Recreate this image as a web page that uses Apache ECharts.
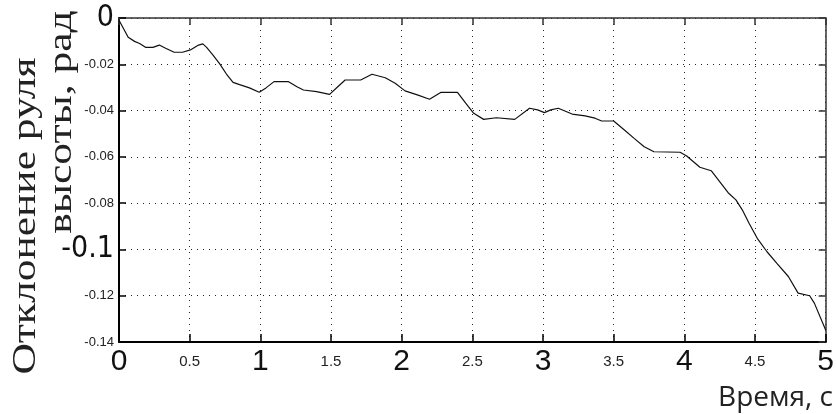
<!DOCTYPE html>
<html>
<head>
<meta charset="utf-8">
<script src="https://cdn.jsdelivr.net/npm/echarts@6/dist/echarts.min.js"></script>
<style>
html,body{margin:0;padding:0;background:#fff;}
#chart{width:837px;height:414px;}
</style>
</head>
<body>
<div id="chart"></div>
<script>
// Time, s
const timeValues = [0,0.065,0.11,0.146,0.19,0.24,0.285,0.33,0.39,0.45,0.505,0.563,0.593,0.62,0.668,0.714,0.76,0.807,0.853,0.923,0.992,1.04,1.097,1.2,1.259,1.305,1.398,1.49,1.548,1.6,1.71,1.79,1.884,1.954,2.024,2.116,2.197,2.279,2.395,2.453,2.51,2.58,2.67,2.8,2.905,2.962,3.01,3.055,3.108,3.206,3.298,3.368,3.415,3.5,3.576,3.645,3.716,3.785,3.97,4.017,4.11,4.19,4.25,4.31,4.365,4.41,4.458,4.516,4.585,4.655,4.736,4.805,4.887,4.92,5.0];
// Elevator deflection, rad
const deflection = [-0.001,-0.0083,-0.0101,-0.011,-0.0127,-0.0127,-0.0117,-0.0131,-0.0148,-0.0148,-0.0138,-0.0117,-0.0112,-0.0127,-0.0163,-0.0199,-0.0242,-0.0278,-0.0288,-0.0302,-0.0321,-0.0302,-0.0275,-0.0275,-0.0297,-0.0311,-0.0318,-0.033,-0.0297,-0.0268,-0.0268,-0.0243,-0.0258,-0.0282,-0.0315,-0.0333,-0.0351,-0.0321,-0.0321,-0.0368,-0.0412,-0.0438,-0.0431,-0.0438,-0.039,-0.0397,-0.0409,-0.0397,-0.039,-0.0415,-0.0423,-0.0433,-0.0445,-0.0445,-0.0484,-0.052,-0.0556,-0.0578,-0.058,-0.0596,-0.0645,-0.066,-0.0707,-0.0755,-0.0786,-0.0829,-0.0887,-0.0952,-0.101,-0.106,-0.1117,-0.1189,-0.12,-0.1232,-0.1348];
// Tick labels
const xTickLabels = ['0','0.5','1','1.5','2','2.5','3','3.5','4','4.5','5'];
const xMajorLabels = ['0','1','2','3','4','5'];
const yTickLabels = ['0','-0.02','-0.04','-0.06','-0.08','-0.1','-0.12','-0.14'];
const yMajorLabels = ['0','-0.1'];
const yTitleLine1 = 'Отклонение руля';
const yTitleLine2 = 'высоты, рад';
const xTitle = 'Время, с';

const chart = echarts.init(document.getElementById('chart'), null, {renderer:'canvas'});
const seriesData = timeValues.map((t,i)=>[t, deflection[i]]);

function xLabel(v){
  const idx = Math.round(v/0.5);
  const s = xTickLabels[idx];
  return xMajorLabels.indexOf(s) >= 0 ? '{big|'+s+'}' : '{small|'+s+'}';
}
function yLabel(v){
  const idx = Math.round(-v/0.02);
  const s = yTickLabels[idx];
  return yMajorLabels.indexOf(s) >= 0 ? '{big|'+s+'}' : '{small|'+s+'}';
}

const dotted = {type:[1,5], color:'#222', width:1};

chart.setOption({
  backgroundColor:'#fff',
  animation:false,
  grid:{left:119, top:18, width:719, height:324, containLabel:false},
  xAxis:[{
    type:'value', min:0, max:5, interval:0.5, position:'bottom',
    axisLine:{show:true, onZero:false, lineStyle:{color:'#000', width:2}},
    axisTick:{show:true, inside:true, length:8, lineStyle:{color:'#000', width:1.5}},
    splitLine:{show:true, lineStyle:dotted},
    axisLabel:{
      show:true, margin:5, showMinLabel:true, showMaxLabel:true,
      formatter:xLabel,
      rich:{
        big:{fontFamily:'Liberation Sans', fontSize:30, color:'#111', lineHeight:30, verticalAlign:'middle'},
        small:{fontFamily:'Liberation Sans', fontSize:15, color:'#222', lineHeight:30, verticalAlign:'middle'}
      }
    }
  },{
    type:'value', min:0, max:5, interval:0.5, position:'top',
    axisLine:{show:true, onZero:false, lineStyle:{color:'#333', width:1.5}},
    axisTick:{show:true, inside:true, length:7, lineStyle:{color:'#333', width:1.5}},
    splitLine:{show:false}, axisLabel:{show:false}
  }],
  yAxis:[{
    type:'value', min:-0.14, max:0, interval:0.02, position:'left',
    axisLine:{show:true, onZero:false, lineStyle:{color:'#000', width:2}},
    axisTick:{show:true, inside:true, length:7, lineStyle:{color:'#000', width:1.5}},
    splitLine:{show:true, lineStyle:dotted},
    axisLabel:{
      show:true, margin:5, showMinLabel:true, showMaxLabel:true,
      formatter:yLabel,
      rich:{
        big:{fontFamily:'Liberation Sans Narrow, DejaVu Sans Condensed, Liberation Sans', fontSize:30, color:'#111', lineHeight:30},
        small:{fontFamily:'Liberation Sans', fontSize:13, color:'#222', lineHeight:16}
      }
    }
  },{
    type:'value', min:-0.14, max:0, interval:0.02, position:'right',
    axisLine:{show:true, onZero:false, lineStyle:{color:'#333', width:1.5}},
    axisTick:{show:true, inside:true, length:7, lineStyle:{color:'#333', width:1.5}},
    splitLine:{show:false}, axisLabel:{show:false}
  }],
  series:[{
    type:'line', xAxisIndex:0, yAxisIndex:0,
    data:seriesData, showSymbol:false, smooth:false,
    lineStyle:{color:'#111', width:1.2}
  }],
  graphic:[
    {type:'text', x:26, y:216, rotation:Math.PI/2, scaleX:1.28, scaleY:1,
     style:{text:yTitleLine1, font:'34px "Liberation Serif"', fill:'#222', textAlign:'center', textVerticalAlign:'middle'}},
    {type:'text', x:62, y:122, rotation:Math.PI/2, scaleX:1.28, scaleY:1,
     style:{text:yTitleLine2, font:'34px "Liberation Serif"', fill:'#222', textAlign:'center', textVerticalAlign:'middle'}},
    {type:'text', x:833, y:398, 
     style:{text:xTitle, font:'28px "Open Sans"', fill:'#222', textAlign:'right', textVerticalAlign:'middle'}}
  ]
});
</script>
</body>
</html>
